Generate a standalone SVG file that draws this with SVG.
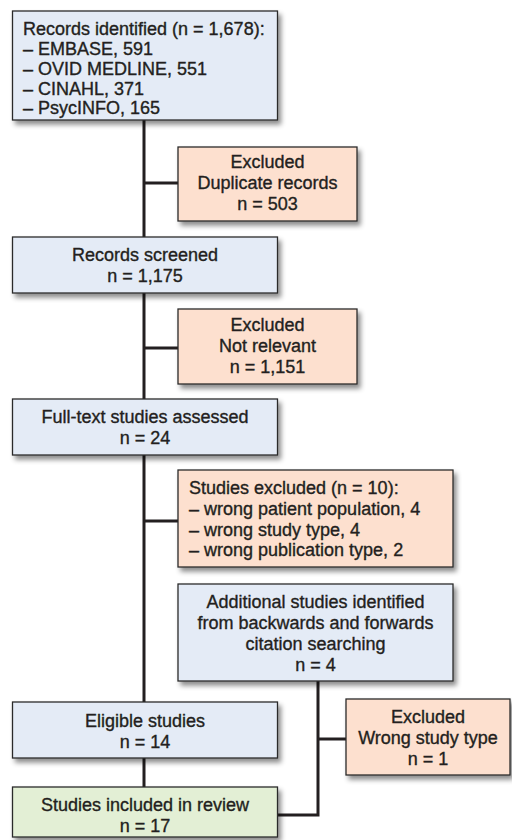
<svg xmlns="http://www.w3.org/2000/svg" width="512" height="840" viewBox="0 0 512 840">
  <defs>
    <filter id="shadow" x="-10%" y="-10%" width="130%" height="140%">
      <feDropShadow dx="3" dy="4" stdDeviation="2.5" flood-color="#000" flood-opacity="0.45"/>
    </filter>
    <style>
      .box { stroke: #2b2b2b; stroke-width: 1.3; filter: url(#shadow); }
      .blue { fill: #e4ebf6; }
      .peach { fill: #fde0cf; }
      .green { fill: #e3efd5; }
      text { font-family: "Liberation Sans", Arial, sans-serif; font-size: 18px; fill: #231f20; stroke: #231f20; stroke-width: 0.35; }
      .c { text-anchor: middle; }
      .link { stroke: #231f20; stroke-width: 3; fill: none; }
    </style>
  </defs>
  <rect width="512" height="840" fill="#ffffff"/>

  <!-- connectors -->
  <g id="connectors">
    <line class="link" x1="144" y1="120" x2="144" y2="787"/>
    <line class="link" x1="144" y1="183" x2="178" y2="183"/>
    <line class="link" x1="144" y1="348" x2="178" y2="348"/>
    <line class="link" x1="144" y1="521" x2="178" y2="521"/>
    <polyline class="link" points="318,681 318,815 277,815"/>
    <line class="link" x1="318" y1="739" x2="346" y2="739"/>
  </g>

  <g id="identified">
    <rect class="box blue" x="12.5" y="11" width="265" height="109"/>
    <text x="23" y="35">Records identified (n = 1,678):</text>
    <text x="23" y="55">– EMBASE, 591</text>
    <text x="23" y="75">– OVID MEDLINE, 551</text>
    <text x="23" y="95">– CINAHL, 371</text>
    <text x="23" y="114">– PsycINFO, 165</text>
  </g>

  <g id="excluded-duplicates">
    <rect class="box peach" x="178" y="147" width="179" height="74"/>
    <text class="c" x="267.5" y="168">Excluded</text>
    <text class="c" x="267.5" y="189">Duplicate records</text>
    <text class="c" x="267.5" y="210">n = 503</text>
  </g>

  <g id="screened">
    <rect class="box blue" x="12.5" y="237" width="265" height="56"/>
    <text class="c" x="145" y="261">Records screened</text>
    <text class="c" x="145" y="282">n = 1,175</text>
  </g>

  <g id="excluded-not-relevant">
    <rect class="box peach" x="178" y="309" width="179" height="75"/>
    <text class="c" x="267.5" y="331">Excluded</text>
    <text class="c" x="267.5" y="352">Not relevant</text>
    <text class="c" x="267.5" y="373">n = 1,151</text>
  </g>

  <g id="full-text">
    <rect class="box blue" x="12.5" y="399" width="265" height="56"/>
    <text class="c" x="145" y="423">Full-text studies assessed</text>
    <text class="c" x="145" y="444">n = 24</text>
  </g>

  <g id="studies-excluded">
    <rect class="box peach" x="178" y="470" width="275" height="97"/>
    <text x="189" y="494">Studies excluded (n = 10):</text>
    <text x="189" y="515">– wrong patient population, 4</text>
    <text x="189" y="536">– wrong study type, 4</text>
    <text x="189" y="556">– wrong publication type, 2</text>
  </g>

  <g id="additional">
    <rect class="box blue" x="178" y="584" width="275" height="97"/>
    <text class="c" x="315.5" y="608">Additional studies identified</text>
    <text class="c" x="315.5" y="629">from backwards and forwards</text>
    <text class="c" x="315.5" y="650">citation searching</text>
    <text class="c" x="315.5" y="671">n = 4</text>
  </g>

  <g id="eligible">
    <rect class="box blue" x="12.5" y="702" width="265" height="56"/>
    <text class="c" x="145" y="727">Eligible studies</text>
    <text class="c" x="145" y="748">n = 14</text>
  </g>

  <g id="excluded-wrong-type">
    <rect class="box peach" x="346" y="699" width="164" height="76"/>
    <text class="c" x="428" y="723">Excluded</text>
    <text class="c" x="428" y="744">Wrong study type</text>
    <text class="c" x="428" y="765">n = 1</text>
  </g>

  <g id="included">
    <rect class="box green" x="12.5" y="787" width="265" height="50"/>
    <text class="c" x="145" y="811">Studies included in review</text>
    <text class="c" x="145" y="832">n = 17</text>
  </g>
</svg>
